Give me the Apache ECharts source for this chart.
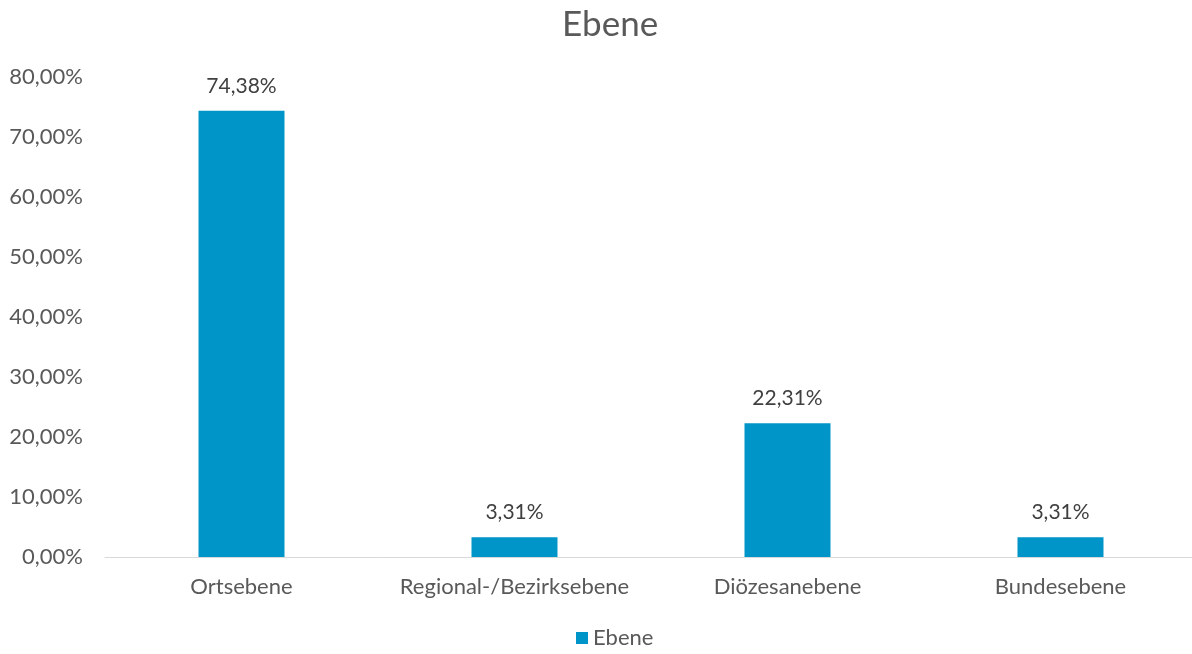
<!DOCTYPE html>
<html>
<head>
<meta charset="utf-8">
<script src="https://cdn.jsdelivr.net/npm/echarts@6/dist/echarts.min.js"></script>
<style>
  html, body { margin: 0; padding: 0; background: #fff; overflow: hidden; }
  #chart { width: 1200px; height: 654px; }
</style>
</head>
<body>
<div id="chart"></div>
<script>
// Données
const categories = ['Ortsebene', 'Regional-/Bezirksebene', 'Diözesanebene', 'Bundesebene'];
const values = [74.38, 3.31, 22.31, 3.31];
const seriesName = 'Ebene';

const fmt = v => v.toFixed(2).replace('.', ',') + '%';

const chart = echarts.init(document.getElementById('chart'));

const option = {
  textStyle: { fontFamily: 'Lato, "Open Sans", sans-serif' },
  title: {
    text: 'Ebene',
    left: 557,
    top: 2,
    textStyle: { color: '#595959', fontSize: 35, fontWeight: 'normal' }
  },
  legend: {
    bottom: 0,
    left: 571,
    itemWidth: 12,
    itemHeight: 12,
    itemGap: 6,
    icon: 'rect',
    textStyle: { color: '#595959', fontSize: 22 },
    data: [seriesName]
  },
  grid: { left: 105, right: 3, top: 77, bottom: 97, containLabel: false },
  xAxis: {
    type: 'category',
    data: categories,
    axisLine: { lineStyle: { color: '#d9d9d9', width: 1 } },
    axisTick: { show: false },
    axisLabel: { color: '#595959', fontSize: 22, margin: 19, interval: 0 }
  },
  yAxis: {
    type: 'value',
    min: 0,
    max: 80,
    interval: 10,
    splitLine: { show: false },
    axisLine: { show: false },
    axisTick: { show: false },
    axisLabel: { color: '#595959', fontSize: 22, margin: 22, formatter: fmt }
  },
  series: [
    {
      name: seriesName,
      type: 'bar',
      data: values,
      barWidth: '31.5%',
      itemStyle: { color: '#0095C8' },
      label: {
        show: true,
        position: 'top',
        distance: 14,
        color: '#404040',
        fontSize: 21,
        formatter: p => fmt(p.value)
      }
    }
  ]
};

chart.setOption(option);
</script>
</body>
</html>
